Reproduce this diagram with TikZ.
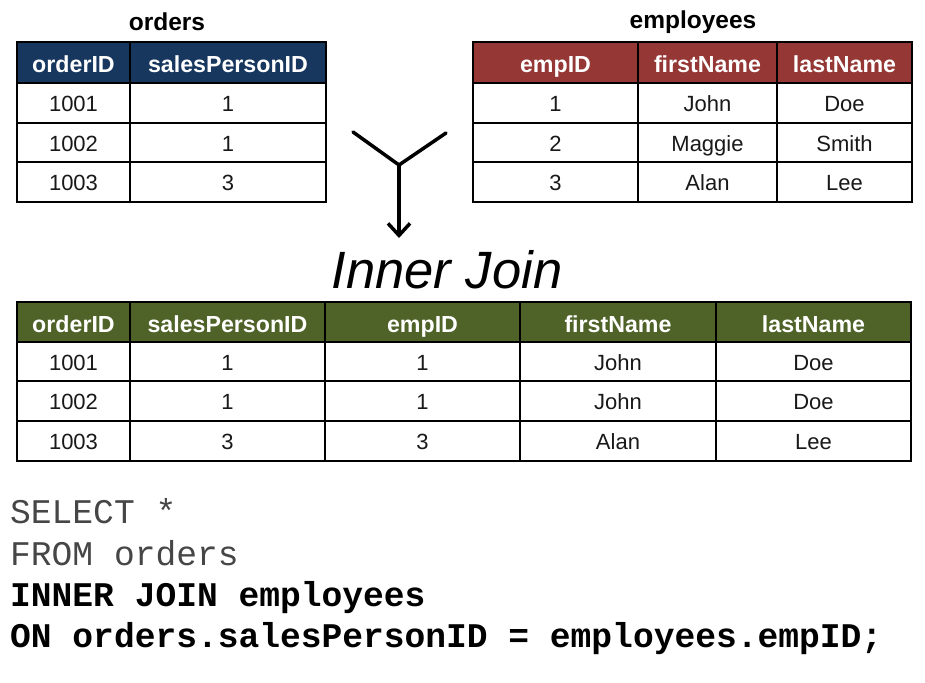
\documentclass[tikz,border=0pt]{standalone}
\usepackage{fontspec}
\setmainfont{Liberation Sans}
\setmonofont{Liberation Mono}
\usetikzlibrary{arrows.meta}
\definecolor{navy}{RGB}{23,55,94}
\definecolor{brick}{RGB}{149,55,53}
\definecolor{olive}{RGB}{79,98,40}
\definecolor{codegray}{RGB}{70,70,70}
\newcommand\mycell[7]{%
  \node[#6, minimum width={#4-#2}, minimum height={#5-#3}] (#1) at ({(#2+#4)/2},{(#3+#5)/2}) {#7};}
\tikzset{
  cellbase/.style={draw=black, line width=1.8pt, inner sep=0pt, outer sep=0pt},
  headcell/.style={cellbase, text=white, text height=22pt, text depth=1.6pt, font=\fontsize{23.2}{26}\selectfont\bfseries},
  hnavy/.style={headcell, fill=navy},
  hbrick/.style={headcell, fill=brick},
  holive/.style={headcell, fill=olive},
  bodycell/.style={cellbase, fill=white, text=black!90, text height=20pt, text depth=2.6pt, font=\fontsize{22}{26}\selectfont},
  tabtitle/.style={font=\fontsize{24.5}{28}\selectfont\bfseries, inner sep=0pt},
  codeline/.style={anchor=base west, inner sep=0pt, font=\fontsize{34.6}{40}\selectfont\ttfamily},
  joinline/.style={line width=3.5pt, line cap=round, line join=round},
}
\begin{document}
\begin{tikzpicture}[x=1pt,y=-1pt]
\useasboundingbox[fill=white] (0,0) rectangle (925,682);

% ---- orders table
\node[tabtitle] (ordtitle) at (167,22) {orders};
\mycell{o-h1}{17}{42}{130}{83}{hnavy}{orderID}
\mycell{o-h2}{130}{42}{326}{83}{hnavy}{salesPersonID}
\mycell{o-11}{17}{83}{130}{123}{bodycell}{1001}
\mycell{o-12}{130}{83}{326}{123}{bodycell}{1}
\mycell{o-21}{17}{123}{130}{162}{bodycell}{1002}
\mycell{o-22}{130}{123}{326}{162}{bodycell}{1}
\mycell{o-31}{17}{162}{130}{202}{bodycell}{1003}
\mycell{o-32}{130}{162}{326}{202}{bodycell}{3}

% ---- employees table
\node[tabtitle] (emptitle) at (693,22) {employees};
\mycell{e-h1}{473}{42}{638}{83}{hbrick}{empID}
\mycell{e-h2}{638}{42}{777}{83}{hbrick}{firstName}
\mycell{e-h3}{777}{42}{912}{83}{hbrick}{lastName}
\mycell{e-11}{473}{83}{638}{123}{bodycell}{1}
\mycell{e-12}{638}{83}{777}{123}{bodycell}{John}
\mycell{e-13}{777}{83}{912}{123}{bodycell}{Doe}
\mycell{e-21}{473}{123}{638}{162}{bodycell}{2}
\mycell{e-22}{638}{123}{777}{162}{bodycell}{Maggie}
\mycell{e-23}{777}{123}{912}{162}{bodycell}{Smith}
\mycell{e-31}{473}{162}{638}{202}{bodycell}{3}
\mycell{e-32}{638}{162}{777}{202}{bodycell}{Alan}
\mycell{e-33}{777}{162}{912}{202}{bodycell}{Lee}

% ---- join symbol
\coordinate (yl) at (353,132);
\coordinate (yj) at (399,165);
\coordinate (yr) at (446,133);
\coordinate (ytip) at (399,238);
\draw[joinline] (yl) -- (yj) -- (yr);
\draw[joinline, -{Straight Barb[length=12pt,width=22pt,line width=3.5pt]}] (yj) -- (ytip);

\node[anchor=base, inner sep=0pt, font=\fontsize{52.5}{56}\selectfont\itshape] (ij) at (447,288) {Inner Join};

% ---- result table
\mycell{r-h1}{17}{302}{130}{342}{holive}{orderID}
\mycell{r-h2}{130}{302}{325}{342}{holive}{salesPersonID}
\mycell{r-h3}{325}{302}{520}{342}{holive}{empID}
\mycell{r-h4}{520}{302}{716}{342}{holive}{firstName}
\mycell{r-h5}{716}{302}{911}{342}{holive}{lastName}
\mycell{r-11}{17}{342}{130}{381}{bodycell}{1001}
\mycell{r-12}{130}{342}{325}{381}{bodycell}{1}
\mycell{r-13}{325}{342}{520}{381}{bodycell}{1}
\mycell{r-14}{520}{342}{716}{381}{bodycell}{John}
\mycell{r-15}{716}{342}{911}{381}{bodycell}{Doe}
\mycell{r-21}{17}{381}{130}{421}{bodycell}{1002}
\mycell{r-22}{130}{381}{325}{421}{bodycell}{1}
\mycell{r-23}{325}{381}{520}{421}{bodycell}{1}
\mycell{r-24}{520}{381}{716}{421}{bodycell}{John}
\mycell{r-25}{716}{381}{911}{421}{bodycell}{Doe}
\mycell{r-31}{17}{421}{130}{461}{bodycell}{1003}
\mycell{r-32}{130}{421}{325}{461}{bodycell}{3}
\mycell{r-33}{325}{421}{520}{461}{bodycell}{3}
\mycell{r-34}{520}{421}{716}{461}{bodycell}{Alan}
\mycell{r-35}{716}{421}{911}{461}{bodycell}{Lee}

% ---- SQL code
\node[codeline, text=codegray] (c1) at (10,523) {SELECT *};
\node[codeline, text=codegray] (c2) at (10,565) {FROM orders};
\node[codeline, text=black, font=\fontsize{34.6}{40}\selectfont\ttfamily\bfseries] (c3) at (10,606) {INNER JOIN employees};
\node[codeline, text=black, font=\fontsize{34.6}{40}\selectfont\ttfamily\bfseries] (c4) at (10,647) {ON orders.salesPersonID = employees.empID;};
\end{tikzpicture}
\end{document}
